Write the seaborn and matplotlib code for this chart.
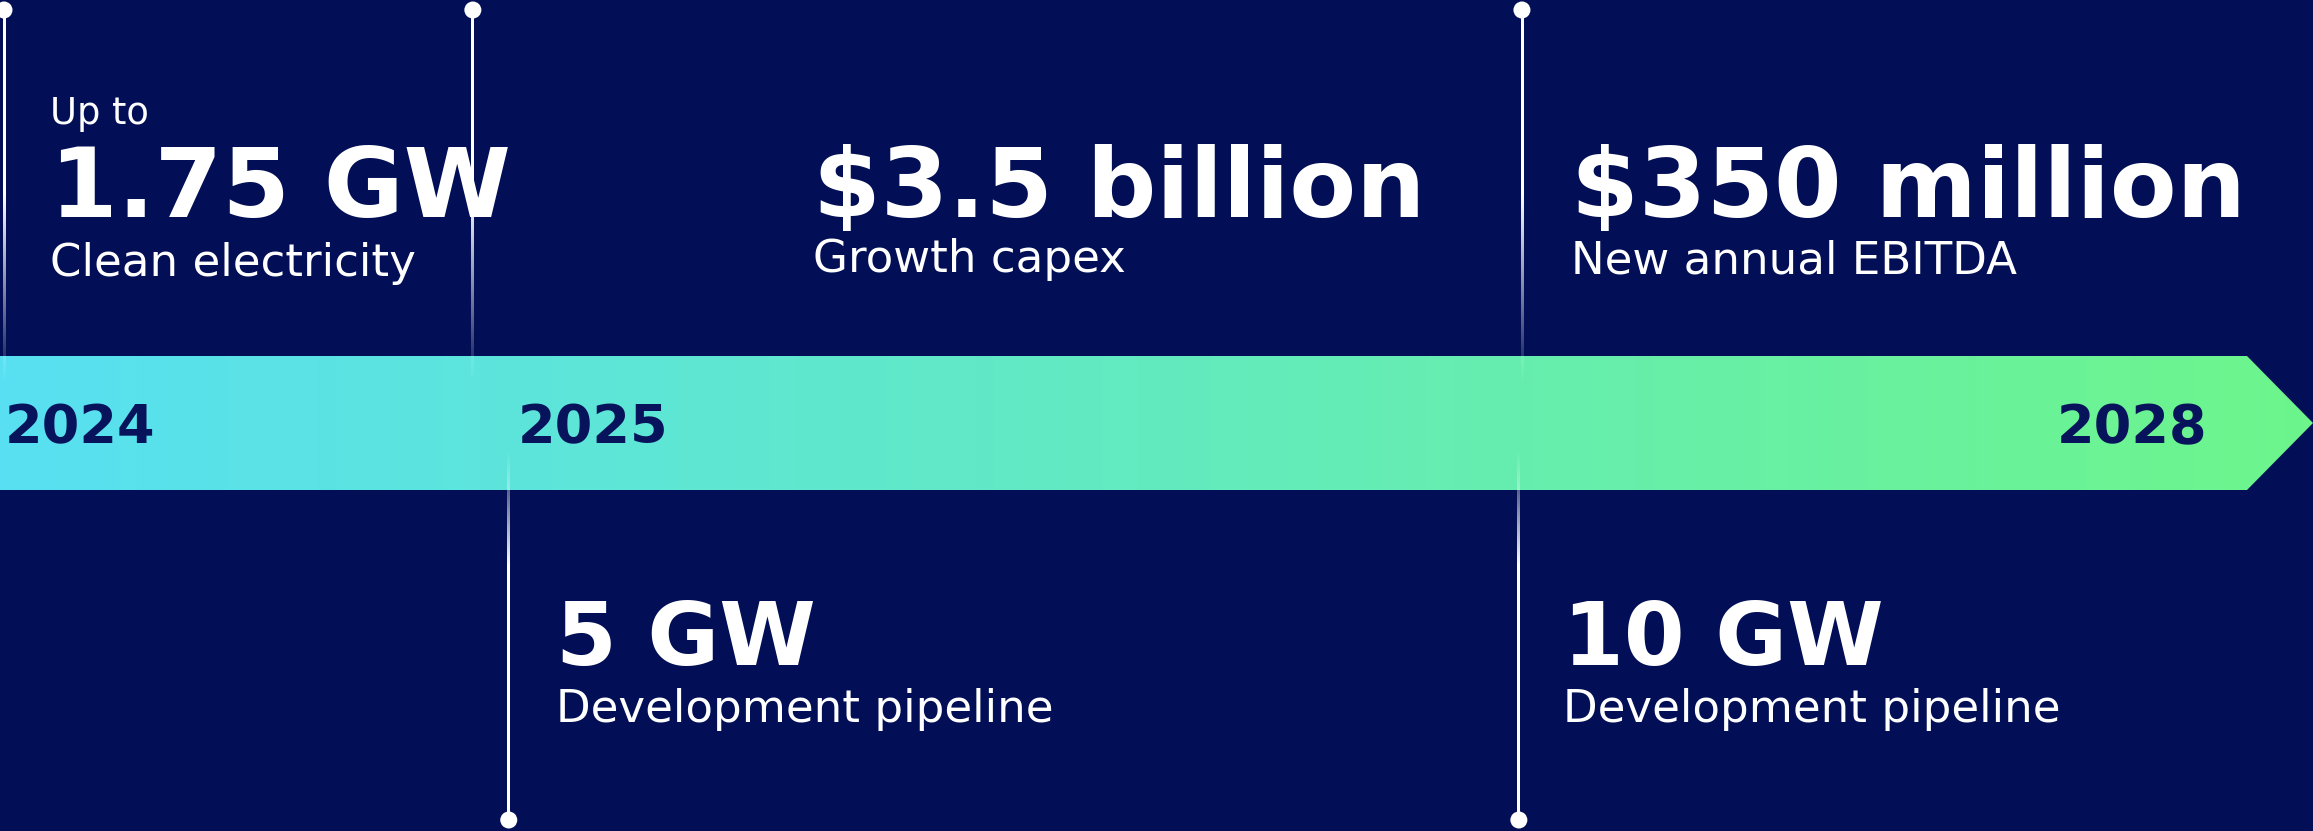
import numpy as np
import matplotlib
matplotlib.use("Agg")
import matplotlib.pyplot as plt
from matplotlib.colors import LinearSegmentedColormap
from matplotlib.patches import Polygon
import seaborn as sns

# ---- content -------------------------------------------------------------
YEARS = [2024, 2025, 2028]
TOP_PREFIX = "Up to"
TOP_HEADLINES = ["1.75 GW", "$3.5 billion", "$350 million"]
TOP_CAPTIONS = ["Clean electricity", "Growth capex", "New annual EBITDA"]
BOTTOM_HEADLINES = ["5 GW", "10 GW"]
BOTTOM_CAPTIONS = ["Development pipeline", "Development pipeline"]

# milestone ticks along the timeline (in years)
TOP_MILESTONES = [2023.998, 2024.912, 2026.957]
BOTTOM_MILESTONES = [2024.982, 2026.951]

# ---- layout --------------------------------------------------------------
W, H, DPI = 2313, 831, 100
PX_PER_YEAR = 513.0
X_LEFT = 2024 - 5 / PX_PER_YEAR
X_RIGHT = X_LEFT + W / PX_PER_YEAR


def year_at(px):
    return X_LEFT + px / PX_PER_YEAR


TOP_TEXT_X = [year_at(50), year_at(813), year_at(1571)]
BOTTOM_TEXT_X = [year_at(556), year_at(1563)]
TOP_CAPTION_Y = [276, 272, 273]

NAVY = "#020F56"
YEAR_INK = "#07135A"
CYAN = "#58E0F2"
GREEN = "#6DF58C"

sns.set_theme(style="white")
plt.rcParams["font.family"] = ["DejaVu Sans"]

fig = plt.figure(figsize=(W / DPI, H / DPI), dpi=DPI)
fig.patch.set_facecolor(NAVY)
ax = fig.add_axes([0, 0, 1, 1])
ax.set_facecolor(NAVY)

# ---- gradient arrow band -------------------------------------------------
band_top, band_bot, band_mid = 356, 490, 423
body_end = year_at(2247)
arrow = Polygon(
    [(X_LEFT, band_top), (body_end, band_top), (X_RIGHT, band_mid),
     (body_end, band_bot), (X_LEFT, band_bot)],
    closed=True, facecolor="none", edgecolor="none")
ax.add_patch(arrow)
band_cmap = LinearSegmentedColormap.from_list("band", [CYAN, GREEN])
grad = np.linspace(0, 1, 600)[None, :]
im = ax.imshow(grad, extent=(X_LEFT, X_RIGHT, band_bot, band_top),
               aspect="auto", cmap=band_cmap, zorder=1, interpolation="bilinear")
im.set_clip_path(arrow)


# ---- fading milestone lines ----------------------------------------------
LINE_HALF_W = 1.4 / PX_PER_YEAR


def fading_line(x, y_top, y_bot, solid_top, solid_bot):
    """White vertical stroke, opaque between solid_top and solid_bot and
    fading linearly to transparent toward y_top / y_bot."""
    ys = np.linspace(y_top, y_bot, 400)
    alpha = np.ones_like(ys)
    if solid_top > y_top:
        alpha = np.minimum(alpha, (ys - y_top) / (solid_top - y_top))
    if solid_bot < y_bot:
        alpha = np.minimum(alpha, (y_bot - ys) / (y_bot - solid_bot))
    rgba = np.ones((len(ys), 1, 4))
    rgba[:, 0, 3] = np.clip(alpha, 0, 1)
    ax.imshow(rgba, extent=(x - LINE_HALF_W, x + LINE_HALF_W, y_bot, y_top),
              aspect="auto", interpolation="bilinear", zorder=3)


for x in TOP_MILESTONES:
    fading_line(x, 10, 385, 10, 195)
for x in BOTTOM_MILESTONES:
    fading_line(x, 450, 820, 565, 820)

sns.scatterplot(x=TOP_MILESTONES + BOTTOM_MILESTONES,
                y=[10] * len(TOP_MILESTONES) + [820] * len(BOTTOM_MILESTONES),
                s=150, color="white", edgecolor="none", linewidth=0,
                ax=ax, zorder=5, legend=False)

# ---- year labels on the band ---------------------------------------------
for yr in YEARS:
    ax.text(yr, 443, str(yr), ha="left", va="baseline", fontsize=39,
            fontweight="bold", color=YEAR_INK, zorder=4)

# ---- headline blocks -----------------------------------------------------
ax.text(TOP_TEXT_X[0], 124, TOP_PREFIX, ha="left", va="baseline",
        fontsize=26.5, color="white", zorder=4)
for x, head, cap, cy in zip(TOP_TEXT_X, TOP_HEADLINES, TOP_CAPTIONS, TOP_CAPTION_Y):
    ax.text(x, 217, head, ha="left", va="baseline", fontsize=70,
            fontweight="bold", color="white", zorder=4)
    ax.text(x, cy, cap, ha="left", va="baseline", fontsize=32.5,
            color="white", zorder=4)

for x, head, cap in zip(BOTTOM_TEXT_X, BOTTOM_HEADLINES, BOTTOM_CAPTIONS):
    ax.text(x, 665, head, ha="left", va="baseline", fontsize=63,
            fontweight="bold", color="white", zorder=4)
    ax.text(x, 722, cap, ha="left", va="baseline", fontsize=32.5,
            color="white", zorder=4)

ax.set_xlim(X_LEFT, X_RIGHT)
ax.set_ylim(H, 0)
ax.set_axis_off()

fig.savefig("out.png", dpi=DPI, facecolor=NAVY)
